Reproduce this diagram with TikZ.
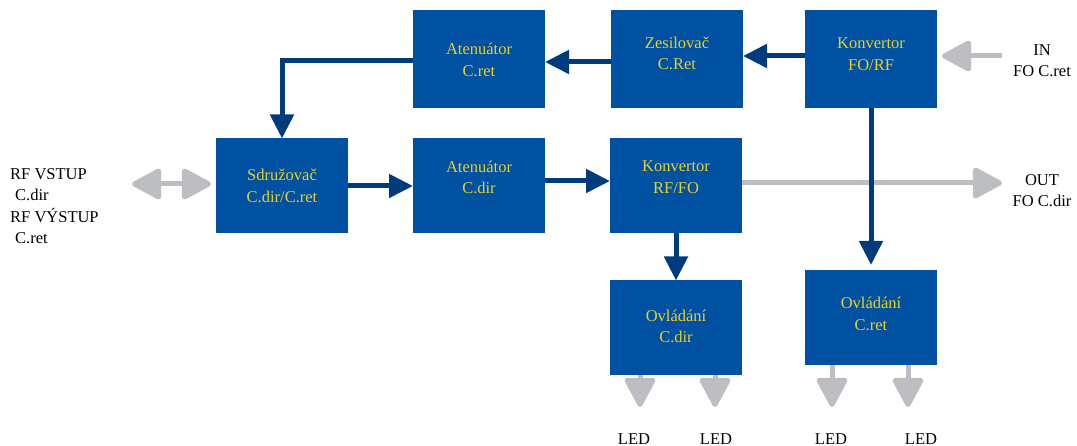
\documentclass[tikz,border=0pt]{standalone}
\usepackage{fontspec}
\setmainfont{Liberation Serif}
\usetikzlibrary{positioning,arrows.meta}
\definecolor{boxblue}{RGB}{1,81,162}
\definecolor{boxtext}{RGB}{232,208,40}
\definecolor{darkline}{RGB}{0,60,125}
\definecolor{greyline}{RGB}{189,190,193}
\newcommand{\boxlines}[2][-5.3pt]{\raisebox{#1}[0pt][0pt]{\begin{tabular}{@{}c@{}}#2\end{tabular}}}

\begin{document}
\begin{tikzpicture}[x=1pt,y=-1pt,
        font=\fontsize{16.5}{21.5}\selectfont,
        block/.style={fill=boxblue,text=boxtext,minimum width=132pt,minimum height=95pt,
                      inner sep=0pt,outer sep=0pt},
        sig/.style={draw=darkline,line width=5pt,>={Triangle[length=24pt,width=23pt]}},
        ext/.style={draw=greyline,line width=5pt,>={Triangle[length=32pt,width=33pt,round]}},
        lbl/.style={inner sep=0pt,align=center}]
   \useasboundingbox (0,0) rectangle (1077,446);
   % top row
   \node[block,minimum height=98pt] (konvFR) at (871,59) {\boxlines[-0.3pt]{Konvertor\\FO/RF}};
   \node[block,minimum height=98pt,left=62pt of konvFR] (zesil) {\boxlines[0.2pt]{Zesilovač\\C.Ret}};
   \node[block,minimum height=98pt,left=66pt of zesil] (atenRet) {\boxlines[-6.3pt]{Atenuátor\\C.ret}};
   % middle row
   \node[block] (sdruz) at (282,186) {\boxlines{Sdružovač\\C.dir/C.ret}};
   \node[block,right=65pt of sdruz] (atenDir) {\boxlines[3.2pt]{Atenuátor\\C.dir}};
   \node[block,right=65pt of atenDir] (konvRF) {\boxlines[3.7pt]{Konvertor\\RF/FO}};
   % control
   \node[block,below=47pt of konvRF] (ovlDir) {\boxlines[-4pt]{Ovládání\\C.dir}};
   \node[block,below=162pt of konvFR] (ovlRet) {\boxlines[-1.8pt]{Ovládání\\C.ret}};
   % texts
   \node[lbl,anchor=north west,align=left] (rfio) at (10,168)
        {RF VSTUP\\\hspace{5pt}C.dir\\RF VÝSTUP\\\hspace{5pt}C.ret};
   \node[lbl,anchor=north] (inTxt) at (1042,44) {IN\\FO C.ret};
   \node[lbl,anchor=north] (outTxt) at (1042,174) {OUT\\FO C.dir};
   \node[lbl,anchor=base] (ledA) at (634,444) {LED};
   \node[lbl,anchor=base] (ledB) at (716,444) {LED};
   \node[lbl,anchor=base] (ledC) at (831,444) {LED};
   \node[lbl,anchor=base] (ledD) at (921,444) {LED};
   \coordinate (inEnd) at (1002,56);
   \coordinate (outEnd) at (1002,183);
   \coordinate (rfEnd) at (132,184);
   \coordinate (tipA) at (640,407);
   \coordinate (tipB) at (715,407);
   \coordinate (tipC) at (832,407);
   \coordinate (tipD) at (908,407);
   % outside
   \draw[ext,->,shorten >=5pt] (inEnd) -- (inEnd -| konvFR.east);
   \draw[ext,->] (outEnd -| konvRF.east) -- (outEnd);
   \draw[ext,<->,shorten >=5pt] (rfEnd) -- (rfEnd -| sdruz.west);
   \draw[ext,->] (ovlDir.south -| tipA) -- (tipA);
   \draw[ext,->] (ovlDir.south -| tipB) -- (tipB);
   \draw[ext,->] (ovlRet.south -| tipC) -- (tipC);
   \draw[ext,->] (ovlRet.south -| tipD) -- (tipD);
   % signal path
   \draw[sig,->] ([yshift=3pt]konvFR.west) -- ([yshift=3pt]zesil.east);
   \draw[sig,->] ([yshift=-3pt]zesil.west) -- ([yshift=-3pt]atenRet.east);
   \draw[sig,->] ([yshift=-2pt]atenRet.west) -| (sdruz.north);
   \draw[sig,->] (sdruz.east) -- (atenDir.west);
   \draw[sig,->] ([yshift=5pt]atenDir.east) -- ([yshift=5pt]konvRF.west);
   \draw[sig,->] (konvRF.south) -- (ovlDir.north);
   \draw[sig,->,shorten >=5pt] (konvFR.south) -- (ovlRet.north);
\end{tikzpicture}
\end{document}
